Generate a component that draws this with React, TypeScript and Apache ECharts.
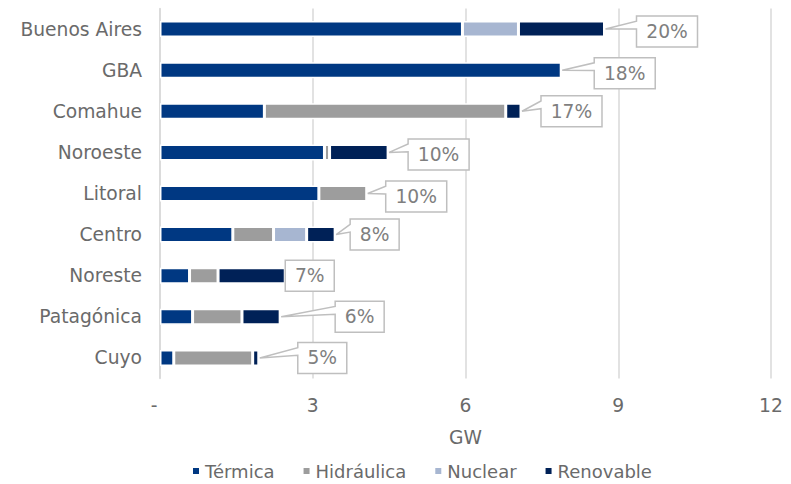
import React, { useEffect, useRef } from "react";
import * as echarts from "echarts";

const categories = ["Buenos Aires", "GBA", "Comahue", "Noroeste", "Litoral", "Centro", "Noreste", "Patagónica", "Cuyo"];
const termica = [5.94, 7.88, 2.05, 3.23, 3.12, 1.43, 0.58, 0.64, 0.27];
const hidraulica = [0, 0, 4.74, 0.1, 0.94, 0.8, 0.56, 0.97, 1.55];
const nuclear = [1.1, 0, 0, 0, 0, 0.65, 0, 0, 0];
const renovable = [1.69, 0, 0.3, 1.15, 0, 0.56, 1.32, 0.75, 0.12];
const shareLabels = ["20%", "18%", "17%", "10%", "10%", "8%", "7%", "6%", "5%"];
const xTicks = [0, 3, 6, 9, 12];

// callout placement relative to bar end (px): [dx, dy]
const calloutOffsets = [[32, 2.5], [33, 3], [20, 0], [20, 2], [19, 3], [15, 0], [0, 0], [55, 0], [39, 0]];

const FONT = "DejaVu Sans";
const FS = 18.7;
const TEXT = "#6a6a6a";
const COLORS = ["#003882", "#9d9d9d", "#a7b6d1", "#002157"];

export default function App() {
  const ref = useRef<HTMLDivElement>(null);
  useEffect(() => {
    if (!ref.current) return;
    const chart = echarts.init(ref.current, null, { renderer: "svg" });
    const totals = categories.map((_, i) => termica[i] + hidraulica[i] + nuclear[i] + renovable[i]);
    const barCommon = {
      type: "bar",
      stack: "total",
      barWidth: 16,
      itemStyle: { borderColor: "#ffffff", borderWidth: 1.5 },
    };
    chart.setOption({
      animation: false,
      textStyle: { fontFamily: FONT },
      color: COLORS,
      grid: { left: 160, right: 20, top: 8.5, bottom: 105.5, containLabel: false },
      xAxis: {
        type: "value",
        min: xTicks[0],
        max: xTicks[xTicks.length - 1],
        interval: 3,
        name: "GW",
        nameLocation: "middle",
        nameGap: 49,
        nameTextStyle: { color: TEXT, fontSize: FS, fontFamily: FONT },
        axisLine: { show: false },
        axisTick: { show: false },
        axisLabel: {
          color: TEXT,
          fontSize: FS,
          margin: 17,
          fontFamily: FONT,
          formatter: (v: number) => (v === 0 ? "-\u00a0\u00a0" : String(v)),
        },
        splitLine: { show: true, lineStyle: { color: "#d9d9d9", width: 1.5 } },
      },
      yAxis: {
        type: "category",
        data: categories,
        inverse: true,
        axisLine: { show: true, lineStyle: { color: "#d9d9d9", width: 1.5 } },
        axisTick: { show: false },
        axisLabel: { color: TEXT, fontSize: FS, margin: 18, fontFamily: FONT },
      },
      legend: {
        top: 462,
        left: 191,
        padding: 0,
        itemWidth: 8,
        itemHeight: 8,
        itemGap: 27,
        icon: "rect",
        textStyle: { color: TEXT, fontSize: 18, fontFamily: FONT },
        data: ["Térmica", "Hidráulica", "Nuclear", "Renovable"],
      },
      series: [
        { ...barCommon, name: "Térmica", data: termica },
        { ...barCommon, name: "Hidráulica", data: hidraulica },
        { ...barCommon, name: "Nuclear", data: nuclear },
        { ...barCommon, name: "Renovable", data: renovable },
        {
          type: "custom",
          name: "share",
          z: 10,
          clip: false,
          silent: true,
          data: categories.map((c, i) => [totals[i], i, shareLabels[i]]),
          encode: { x: 0, y: 1 },
          renderItem: (params: any, api: any) => {
            const i = params.dataIndex;
            const tip = api.coord([api.value(0), api.value(1)]);
            const [dx, dy] = calloutOffsets[i];
            const label = shareLabels[i];
            const w = label.length >= 3 ? 61 : 49;
            const h = 31;
            const L = tip[0] + dx;
            const cy = tip[1] + dy;
            const T = cy - h / 2;
            const B = cy + h / 2;
            const R = L + w;
            const pts =
              dx > 2
                ? [[L, T], [R, T], [R, B], [L, B], [L, T + (5 * h) / 12], [tip[0] + 1, tip[1]], [L, T + h / 6]]
                : [[L, T], [R, T], [R, B], [L, B]];
            return {
              type: "group",
              children: [
                {
                  type: "polygon",
                  shape: { points: pts },
                  style: { fill: "#ffffff", stroke: "#bfbfbf", lineWidth: 1.5 },
                },
                {
                  type: "text",
                  x: L + w / 2,
                  y: cy,
                  style: {
                    text: label,
                    fill: "#7f7f7f",
                    font: `${FS}px "${FONT}"`,
                    align: "center",
                    verticalAlign: "middle",
                  },
                },
              ],
            };
          },
        },
      ],
    });
    return () => chart.dispose();
  }, []);
  return <div ref={ref} style={{ width: 791, height: 484, position: "absolute", left: 0, top: 0 }} />;
}
